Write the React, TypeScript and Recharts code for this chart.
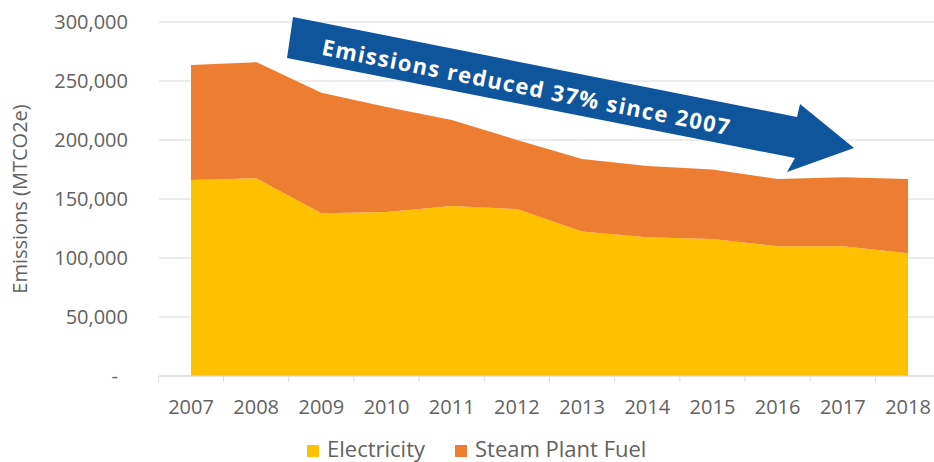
import React from 'react';
import { AreaChart, Area, XAxis, YAxis, CartesianGrid, Customized } from 'recharts';

const years = ['2007', '2008', '2009', '2010', '2011', '2012', '2013', '2014', '2015', '2016', '2017', '2018'];
const electricity = [166000, 167500, 138000, 139000, 144000, 141500, 122500, 117500, 116000, 110000, 110000, 104000];
const steamPlantFuel = [97500, 98500, 102000, 89000, 73000, 58500, 61500, 60500, 59000, 57000, 58500, 63000];
const yTicks = [0, 50000, 100000, 150000, 200000, 250000, 300000];

const data = years.map((year, i) => ({
  year,
  electricity: electricity[i],
  steam: steamPlantFuel[i],
}));

const FONT = '"Open Sans", sans-serif';
const TEXT = '#626262';
const GRID = '#d9d9d9';
const YELLOW = '#FFC000';
const ORANGE = '#ED7D31';
const BLUE = '#0F559C';

const HALF_STEP = 32.6;

const legendItems = [
  { label: 'Electricity', color: YELLOW, x: 307 },
  { label: 'Steam Plant Fuel', color: ORANGE, x: 455 },
];

const YTick = ({ x, y, payload }: any) => (
  <text
    x={payload.value === 0 ? x - 10 : x}
    y={y}
    dy={7}
    textAnchor="end"
    fill={TEXT}
    fontSize={20}
    fontFamily={FONT}
  >
    {payload.value === 0 ? '-' : payload.value.toLocaleString('en-US')}
  </text>
);

const XTick = ({ x, y, payload }: any) => (
  <g>
    <line x1={x - HALF_STEP} x2={x - HALF_STEP} y1={y} y2={y + 6} stroke={GRID} />
    <text x={x} y={y + 38} textAnchor="middle" fill={TEXT} fontSize={20} fontFamily={FONT}>
      {payload.value}
    </text>
  </g>
);

// legend drawn in the svg, below the axis
const LegendSvg = () => (
  <g>
    {legendItems.map((item) => (
      <g key={item.label}>
        <rect x={item.x} y={445} width={12} height={12} fill={item.color} />
        <text x={item.x + 20} y={457} fill={TEXT} fontSize={22} fontFamily={FONT}>
          {item.label}
        </text>
      </g>
    ))}
  </g>
);

// callout arrow drawn over the plot
const Arrow = () => (
  <g>
    <polygon
      points="293,17 797,117 800,104 854,148 787,172 795,158 287,58"
      fill={BLUE}
    />
    <text
      x={526}
      y={86}
      transform="rotate(11.2 526 86)"
      textAnchor="middle"
      dominantBaseline="central"
      fill="#ffffff"
      fontSize={22}
      fontWeight={700}
      fontFamily={FONT}
      textLength={415}
      lengthAdjust="spacing"
    >
      Emissions reduced 37% since 2007
    </text>
  </g>
);

export default function App() {
  return (
    <div style={{ position: 'absolute', left: 0, top: 0, background: '#fff' }}>
      <AreaChart
        width={934}
        height={462}
        data={data}
        margin={{ top: 22, right: 0, left: 0, bottom: 40 }}
      >
        <CartesianGrid vertical={false} stroke={GRID} />
        <XAxis
          dataKey="year"
          padding={{ left: 32, right: 26 }}
          height={46}
          axisLine={{ stroke: GRID }}
          tickLine={false}
          tickSize={0}
          tickMargin={0}
          tick={<XTick />}
          interval={0}
        />
        <YAxis
          width={159}
          domain={[0, 300000]}
          ticks={yTicks}
          axisLine={false}
          tickLine={false}
          tickSize={0}
          tickMargin={31}
          tick={<YTick />}
          label={{
            value: 'Emissions (MTCO2e)',
            angle: -90,
            position: 'insideLeft',
            offset: 20,
            style: { textAnchor: 'middle', fill: TEXT, fontSize: 20, fontFamily: FONT },
          }}
        />
        <Area
          type="linear"
          dataKey="electricity"
          name="Electricity"
          stackId="1"
          stroke="none"
          fill={YELLOW}
          fillOpacity={1}
          isAnimationActive={false}
        />
        <Area
          type="linear"
          dataKey="steam"
          name="Steam Plant Fuel"
          stackId="1"
          stroke="none"
          fill={ORANGE}
          fillOpacity={1}
          isAnimationActive={false}
        />
        <Customized component={Arrow} />
        <Customized component={LegendSvg} />
      </AreaChart>
    </div>
  );
}
